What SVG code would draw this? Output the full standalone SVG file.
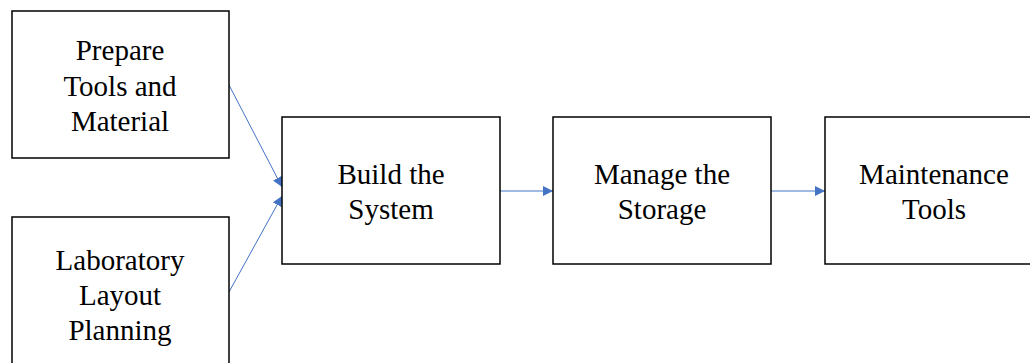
<svg xmlns="http://www.w3.org/2000/svg" width="1030" height="363" viewBox="0 0 1030 363">
  <style>
    .box { fill: #ffffff; stroke: #000000; stroke-width: 1.5; }
    .label { font-family: "Liberation Serif", "Times New Roman", serif; font-size: 29px; fill: #000000; text-anchor: middle; }
    .conn { stroke: #4472C4; stroke-width: 1; fill: none; marker-end: url(#arrow); }
  </style>
  <defs>
    <marker id="arrow" viewBox="0 0 10 10" refX="10" refY="5" markerWidth="10" markerHeight="10" markerUnits="userSpaceOnUse" orient="auto">
      <path d="M0,0 L10,5 L0,10 Z" fill="#4472C4"/>
    </marker>
  </defs>
  <rect width="1030" height="363" fill="#ffffff"/>

  <g id="connectors">
    <line class="conn" x1="229" y1="85" x2="282" y2="187"/>
    <line class="conn" x1="229" y1="292" x2="282" y2="196"/>
    <line class="conn" x1="500" y1="191" x2="553" y2="191"/>
    <line class="conn" x1="771" y1="191" x2="825" y2="191"/>
  </g>

  <g id="prepare">
    <rect class="box" x="12" y="11" width="217" height="147"/>
    <text class="label" x="120" y="60">Prepare</text>
    <text class="label" x="120" y="96">Tools and</text>
    <text class="label" x="120" y="131">Material</text>
  </g>

  <g id="layout">
    <rect class="box" x="12" y="217" width="217" height="160"/>
    <text class="label" x="120" y="270">Laboratory</text>
    <text class="label" x="120" y="305">Layout</text>
    <text class="label" x="120" y="340">Planning</text>
  </g>

  <g id="build">
    <rect class="box" x="282" y="117" width="218" height="147"/>
    <text class="label" x="391" y="184">Build the</text>
    <text class="label" x="391" y="219">System</text>
  </g>

  <g id="storage">
    <rect class="box" x="553" y="117" width="218" height="147"/>
    <text class="label" x="662" y="184">Manage the</text>
    <text class="label" x="662" y="219">Storage</text>
  </g>

  <g id="maintenance">
    <rect class="box" x="825" y="117" width="218" height="147"/>
    <text class="label" x="934" y="184">Maintenance</text>
    <text class="label" x="934" y="219">Tools</text>
  </g>
</svg>
